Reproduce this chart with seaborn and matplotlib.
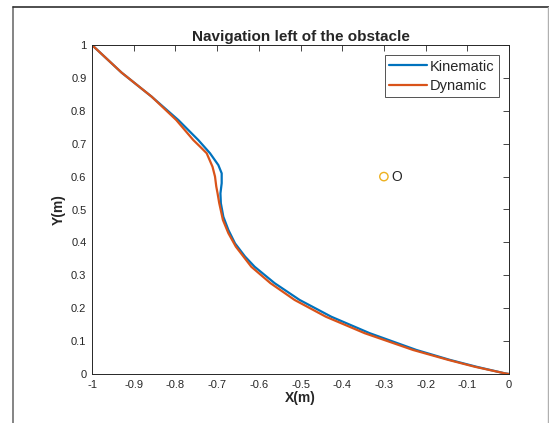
import matplotlib
matplotlib.use("Agg")
import pandas as pd
import seaborn as sns
from matplotlib import pyplot as plt
from matplotlib.lines import Line2D
from matplotlib.ticker import FormatStrFormatter, MultipleLocator

sns.set_style("white")
plt.rcParams["font.family"] = ["Liberation Sans", "DejaVu Sans"]
plt.rcParams["axes.edgecolor"] = "#262626"
plt.rcParams["xtick.color"] = "#262626"
plt.rcParams["ytick.color"] = "#262626"

# trajectories
kin_x = [-1.0, -0.929, -0.857, -0.793, -0.745, -0.717, -0.697, -0.689,
         -0.689, -0.692, -0.691, -0.685, -0.673, -0.657, -0.633, -0.610,
         -0.562, -0.502, -0.426, -0.334, -0.222, -0.142, -0.078, -0.010, 0.0]
kin_y = [1.0, 0.916, 0.843, 0.772, 0.711, 0.671, 0.635, 0.61,
         0.58, 0.549, 0.519, 0.478, 0.438, 0.397, 0.357, 0.326,
         0.276, 0.225, 0.174, 0.124, 0.073, 0.043, 0.022, 0.002, 0.0]

dyn_x = [-1.0, -0.929, -0.857, -0.798, -0.757, -0.740, -0.725, -0.711,
         -0.705, -0.702, -0.699, -0.695, -0.686, -0.673, -0.655, -0.618,
         -0.572, -0.514, -0.439, -0.346, -0.230, -0.146, -0.082, -0.010, 0.0]
dyn_y = [1.0, 0.916, 0.843, 0.772, 0.711, 0.69, 0.671, 0.630,
         0.6, 0.57, 0.55, 0.52, 0.468, 0.428, 0.387, 0.326,
         0.276, 0.225, 0.174, 0.124, 0.073, 0.043, 0.022, 0.002, 0.0]

target_x, target_y = [-0.3], [0.6]
obstacle_x, obstacle_y = -0.27, 0.6

kin = pd.DataFrame({"x": kin_x, "y": kin_y})
dyn = pd.DataFrame({"x": dyn_x, "y": dyn_y})

fig = plt.figure(figsize=(5.49, 4.23), dpi=100)
ax = fig.add_axes([92 / 549, 1 - 374 / 423, 417 / 549, 329 / 423])

sns.lineplot(data=kin, x="x", y="y", sort=False, estimator=None,
             color="#0072BD", lw=1.6, ax=ax)
sns.lineplot(data=dyn, x="x", y="y", sort=False, estimator=None,
             color="#D95319", lw=1.6, ax=ax)
sns.scatterplot(x=target_x, y=target_y, marker="o", s=36, facecolor="none",
                edgecolor="#EDB120", linewidth=1.0, ax=ax)
ax.text(obstacle_x, obstacle_y, "O", ha="center", va="center",
        fontsize=10, color="#262626")

ax.set_xlim(-1, 0)
ax.set_ylim(0, 1)
ax.xaxis.set_major_locator(MultipleLocator(0.1))
ax.yaxis.set_major_locator(MultipleLocator(0.1))
ax.xaxis.set_major_formatter(FormatStrFormatter("%g"))
ax.yaxis.set_major_formatter(FormatStrFormatter("%g"))
ax.tick_params(direction="in", length=4, width=0.6, labelsize=8,
               top=True, right=True, pad=4)
for s in ax.spines.values():
    s.set_linewidth(0.7)

ax.set_title("Navigation left of the obstacle", fontsize=11,
             fontweight="bold", pad=3)
ax.set_xlabel("X(m)", fontsize=10, fontweight="bold", labelpad=1)
ax.set_ylabel("Y(m)", fontsize=10, fontweight="bold", labelpad=4)

handles = [Line2D([], [], color="#0072BD", lw=1.6),
           Line2D([], [], color="#D95319", lw=1.6)]
leg = ax.legend(handles, ["Kinematic", "Dynamic"], loc="upper right",
                fontsize=10.5, frameon=True, fancybox=False, handlelength=2.6,
                handletextpad=0.2, borderpad=0.3, labelspacing=0.35,
                borderaxespad=0.7)
leg.get_frame().set_edgecolor("#262626")
leg.get_frame().set_linewidth(0.7)

# outer screenshot frame
fig.add_artist(Line2D([13 / 549, 13 / 549], [0, 1 - 7 / 423],
                      transform=fig.transFigure, color="#707070", lw=1.2))
fig.add_artist(Line2D([13 / 549, 1], [1 - 7 / 423, 1 - 7 / 423],
                      transform=fig.transFigure, color="#303030", lw=1.2))
fig.add_artist(Line2D([547.5 / 549, 547.5 / 549], [0, 1 - 7 / 423],
                      transform=fig.transFigure, color="#b0b0b0", lw=1.0))

plt.savefig("out.png", dpi=100)
